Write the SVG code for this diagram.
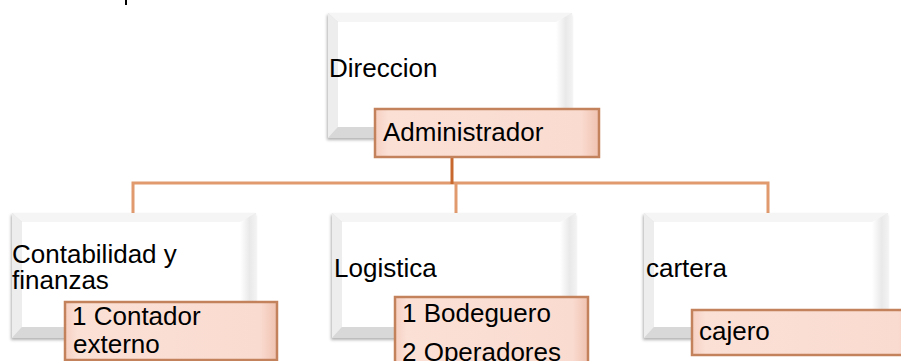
<svg xmlns="http://www.w3.org/2000/svg" width="901" height="361" viewBox="0 0 901 361">
  <style>
    .t { font-family: "Liberation Sans", Arial, sans-serif; font-size: 26px; fill: #000; }
    .conn { stroke: #e09a6e; stroke-width: 3; fill: none; }
    .conn-dark { stroke: #c8682e; stroke-width: 3; fill: none; }
    .peach { fill: url(#peachGrad); stroke: #c4825c; stroke-width: 2.5; }
  </style>
  <defs>
    <linearGradient id="peachGrad" x1="0" y1="0" x2="1" y2="0">
      <stop offset="0" stop-color="#f6d0c1"/>
      <stop offset="0.06" stop-color="#fbe0d6"/>
      <stop offset="0.92" stop-color="#fadbd0"/>
      <stop offset="1" stop-color="#efc2b0"/>
    </linearGradient>
    <linearGradient id="rightBand" x1="0" y1="0" x2="1" y2="0">
      <stop offset="0" stop-color="#ffffff"/>
      <stop offset="0.6" stop-color="#e9e9e9"/>
      <stop offset="1" stop-color="#f2f2f2"/>
    </linearGradient>
    <filter id="shadow" x="-10%" y="-10%" width="120%" height="125%">
      <feDropShadow dx="-1" dy="2" stdDeviation="1.5" flood-color="#000" flood-opacity="0.3"/>
    </filter>
    <g id="bevelWhite">
      <rect x="0" y="0" width="244" height="125" fill="#e0e0e0"/>
      <polygon points="0,0 244,0 232,9 10,9" fill="#f5f5f5"/>
      <polygon points="0,0 10,9 10,114 0,125" fill="#ededed"/>
      <polygon points="244,0 244,125 228,114 228,9" fill="url(#rightBand)"/>
      <polygon points="0,125 10,114 228,114 244,125" fill="#d8d8d8"/>
      <rect x="10" y="9" width="218" height="105" fill="#ffffff"/>
    </g>
  </defs>

  <rect x="0" y="0" width="901" height="361" fill="#ffffff"/>
  <rect x="125" y="0" width="2" height="5" fill="#000"/>

  <g id="connectors">
    <path class="conn" d="M133,213 V183 H768 V213"/>
    <path class="conn" d="M456,183 V213"/>
    <path class="conn-dark" d="M452,157 V184"/>
  </g>

  <g id="direccion">
    <use href="#bevelWhite" transform="translate(328,13)" filter="url(#shadow)"/>
    <text class="t" x="329" y="77">Direccion</text>
  </g>
  <g id="administrador">
    <rect class="peach" x="375" y="109" width="224" height="48"/>
    <text class="t" x="383" y="141">Administrador</text>
  </g>

  <g id="contabilidad">
    <use href="#bevelWhite" transform="translate(12,213)" filter="url(#shadow)"/>
    <text class="t" x="12" y="263">Contabilidad y</text>
    <text class="t" x="12" y="289">finanzas</text>
  </g>
  <g id="contador">
    <rect class="peach" x="65" y="302" width="212" height="58"/>
    <text class="t" x="72" y="325">1 Contador</text>
    <text class="t" x="73" y="353">externo</text>
  </g>

  <g id="logistica">
    <use href="#bevelWhite" transform="translate(332,213)" filter="url(#shadow)"/>
    <text class="t" x="334" y="277">Logistica</text>
  </g>
  <g id="bodeguero">
    <rect class="peach" x="395" y="297" width="193" height="70"/>
    <text class="t" x="402" y="322">1 Bodeguero</text>
    <text class="t" x="402" y="361">2 Operadores</text>
  </g>

  <g id="cartera">
    <use href="#bevelWhite" transform="translate(644,213)" filter="url(#shadow)"/>
    <text class="t" x="646" y="277">cartera</text>
  </g>
  <g id="cajero">
    <rect class="peach" x="692" y="310" width="224" height="45"/>
    <text class="t" x="699" y="340">cajero</text>
  </g>
</svg>
